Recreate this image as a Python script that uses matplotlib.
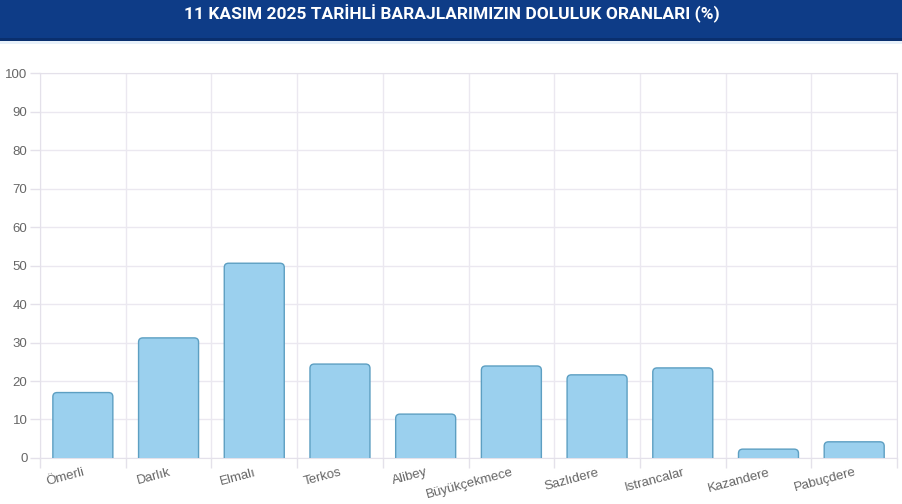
'''Bar chart of dam fill ratios, 11 Kasim 2025'''
import matplotlib
matplotlib.use('Agg')
import matplotlib.pyplot as plt
from matplotlib.patches import FancyBboxPatch, Rectangle

dams = ['Ömerli', 'Darlık', 'Elmalı', 'Terkos', 'Alibey', 'Büyükçekmece',
        'Sazlıdere', 'Istrancalar', 'Kazandere', 'Pabuçdere']
fill_pct = [17.0, 31.2, 50.6, 24.4, 11.4, 23.9, 21.6, 23.4, 2.3, 4.2]
y_ticks = list(range(0, 101, 10))
title = '11 KASIM 2025 TARİHLİ BARAJLARIMIZIN DOLULUK ORANLARI (%)'

plt.rcParams['font.family'] = ['Liberation Sans', 'DejaVu Sans']

fig = plt.figure(figsize=(9.03, 5.04), dpi=100)

# header band
fig.patches.append(Rectangle((0, 1 - 41 / 504), 1, 41 / 504, transform=fig.transFigure,
                             facecolor='#0e3c87', edgecolor='none', zorder=0))
fig.patches.append(Rectangle((0, 1 - 41 / 504), 1, 3 / 504, transform=fig.transFigure,
                             facecolor='#0a2f6e', edgecolor='none', zorder=0))
fig.patches.append(Rectangle((0, 1 - 44 / 504), 1, 3 / 504, transform=fig.transFigure,
                             facecolor='#e8f1fa', edgecolor='none', zorder=0))
fig.text(0.5, 1 - 14 / 504, title, color='white', fontsize=12.5, fontweight='bold',
         family=['Roboto', 'DejaVu Sans'], ha='center', va='center')

ax = fig.add_axes([0.0443, 0.0913, 0.9491, 0.7637])
n = len(dams)
ax.set_xlim(-0.5, n - 0.5)
ax.set_ylim(0, 100)

# rounded bars
bar_w = 0.7
for i, v in enumerate(fill_pct):
    box = FancyBboxPatch((i - bar_w / 2, -3), bar_w, v + 3,
                         boxstyle='round,pad=0,rounding_size=0.05',
                         mutation_aspect=22,
                         facecolor='#9bd0ee', edgecolor='#5d9fc2',
                         linewidth=1.0, zorder=3)
    ax.add_patch(box)

ax.set_yticks(y_ticks)
ax.set_yticklabels([str(t) for t in y_ticks])
ax.set_xticks(range(n))
ax.set_xticklabels(dams, rotation=15, ha='right', rotation_mode='anchor')
ax.set_xticks([i - 0.5 for i in range(n + 1)], minor=True)

ax.grid(False)
ax.yaxis.grid(True, color='#ebe8f0', linewidth=1.0, zorder=0)
ax.xaxis.grid(True, which='minor', color='#ebe8f0', linewidth=1.0, zorder=0)
ax.set_axisbelow(True)

ax.tick_params(axis='y', colors='#e4e1ea', labelcolor='#666666', labelsize=9.5,
               length=7, width=1, pad=2)
ax.tick_params(axis='x', which='major', length=0, labelcolor='#666666',
               labelsize=9.5, pad=6)
ax.tick_params(axis='x', which='minor', colors='#e4e1ea', length=7, width=1)

for side in ['top', 'right', 'left', 'bottom']:
    ax.spines[side].set_color('#e4e1ea')

fig.savefig('out.png', dpi=100)
